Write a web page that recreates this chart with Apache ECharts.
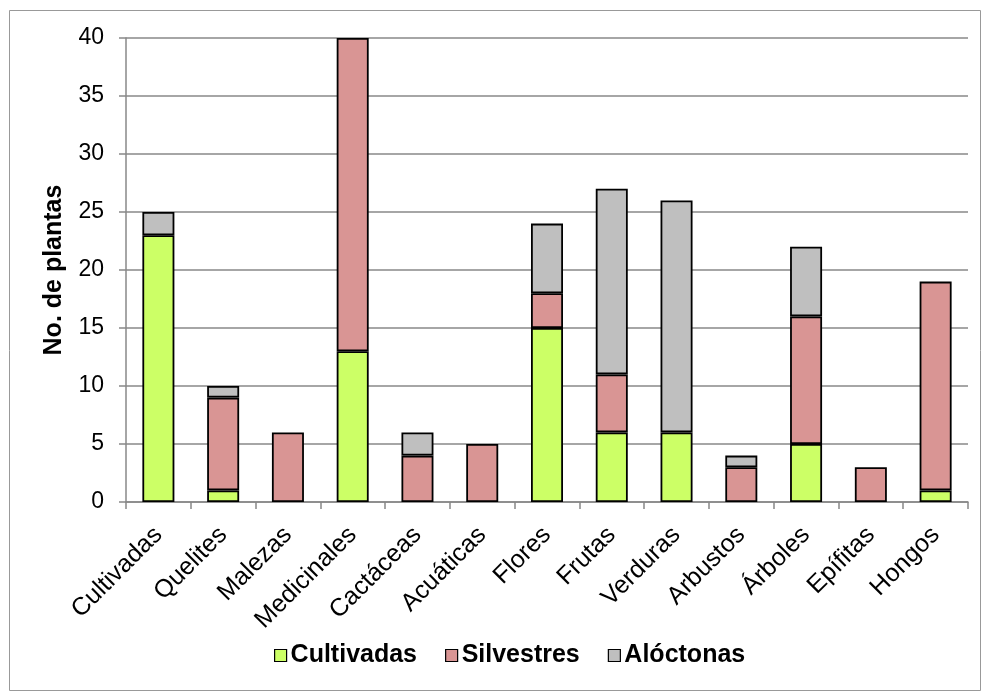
<!DOCTYPE html>
<html>
<head>
<meta charset="utf-8">
<script src="https://cdn.jsdelivr.net/npm/echarts@6/dist/echarts.min.js"></script>
<style>
  html, body { margin: 0; padding: 0; background: #fff; }
  #chart { width: 982px; height: 695px; }
</style>
</head>
<body>
<div id="chart"></div>
<script>
// Plant use categories and counts per origin group
const categories = ['Cultivadas', 'Quelites', 'Malezas', 'Medicinales', 'Cactáceas', 'Acuáticas',
  'Flores', 'Frutas', 'Verduras', 'Arbustos', 'Árboles', 'Epífitas', 'Hongos'];
const cultivadas = [23, 1, 0, 13, 0, 0, 15, 6, 6, 0, 5, 0, 1];
const silvestres = [0, 8, 6, 27, 4, 5, 3, 5, 0, 3, 11, 3, 18];
const aloctonas  = [2, 1, 0, 0, 2, 0, 6, 16, 20, 1, 6, 0, 0];
const seriesNames = ['Cultivadas', 'Silvestres', 'Alóctonas'];
const yTicks = [0, 5, 10, 15, 20, 25, 30, 35, 40];

const colors = ['#CCFF66', '#D99594', '#BFBFBF'];
const font = 'Arial, "Liberation Sans", sans-serif';

function barSeries(name, data, color) {
  return {
    name: name,
    type: 'bar',
    stack: 'total',
    data: data.map(v => (v === 0 ? null : v)),
    barWidth: 32,
    itemStyle: { color: color, borderColor: '#000', borderWidth: 1.8 },
    emphasis: { disabled: true }
  };
}

const chart = echarts.init(document.getElementById('chart'), null, { renderer: 'canvas' });
chart.setOption({
  animation: false,
  backgroundColor: '#fff',
  graphic: [{
    type: 'rect',
    shape: { x: 9.5, y: 10.5, width: 971, height: 680 },
    style: { fill: 'none', stroke: '#999', lineWidth: 1 },
    silent: true
  }],
  grid: { left: 126, right: 14, top: 38, bottom: 193, containLabel: false },
  legend: {
    data: seriesNames,
    top: 638,
    left: 269,
    itemWidth: 12,
    itemHeight: 12,
    itemGap: 28,
    icon: 'rect',
    itemStyle: { borderColor: '#000', borderWidth: 1.2 },
    textStyle: { fontFamily: font, fontSize: 25, fontWeight: 'bold', color: '#000', padding: [0, 0, 0, -1] }
  },
  xAxis: {
    type: 'category',
    data: categories,
    axisLine: { lineStyle: { color: '#888', width: 1.5 } },
    axisTick: { show: true, length: 7, alignWithLabel: false, lineStyle: { color: '#888', width: 1.5 } },
    axisLabel: { rotate: 45, fontFamily: font, fontSize: 25, color: '#000', margin: 29, interval: 0 }
  },
  yAxis: {
    type: 'value',
    min: 0,
    max: 40,
    interval: 5,
    name: 'No. de plantas',
    nameLocation: 'middle',
    nameGap: 59,
    nameTextStyle: { fontFamily: font, fontSize: 25, fontWeight: 'bold', color: '#000' },
    axisLine: { show: true, lineStyle: { color: '#888', width: 1.5 } },
    axisTick: { show: true, length: 7, lineStyle: { color: '#888', width: 1.5 } },
    splitLine: { lineStyle: { color: '#888', width: 1.5 } },
    axisLabel: {
      fontFamily: font, fontSize: 23, color: '#000', margin: 22,
      formatter: v => (yTicks.includes(v) ? String(v) : '')
    }
  },
  series: [
    barSeries(seriesNames[0], cultivadas, colors[0]),
    barSeries(seriesNames[1], silvestres, colors[1]),
    barSeries(seriesNames[2], aloctonas, colors[2])
  ]
});
</script>
</body>
</html>
